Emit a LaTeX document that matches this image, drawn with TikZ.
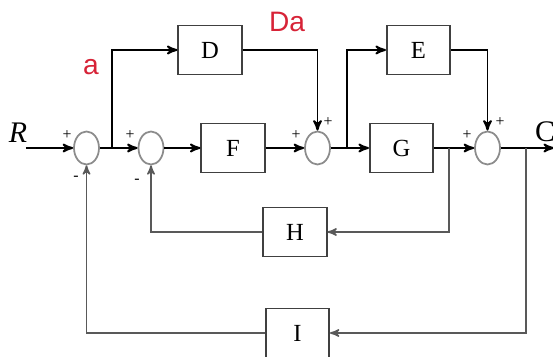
\documentclass[tikz,border=0pt]{standalone}
\usepackage{fontspec}
\setmainfont{Liberation Serif}
\newfontfamily\labfont{Liberation Sans}
\usepackage{tikz}
\usetikzlibrary{arrows,shapes.geometric}
\definecolor{labred}{RGB}{215,35,55}

\begin{document}
\begin{tikzpicture}[node distance=1.7cm, >=stealth',
    block/.style={rectangle, draw=black!75, line width=0.9pt, minimum height=0.98cm,
                  minimum width=1.27cm, font=\fontsize{14}{16}\selectfont},
    sum/.style={ellipse, draw=black!45, line width=1pt, minimum width=0.5cm,
                minimum height=0.66cm, inner sep=0pt},
    arrow/.style={->, line width=1.1pt},
    fb/.style={->, line width=0.9pt, draw=black!65},
    sgn/.style={font=\fontsize{9}{10}\selectfont, inner sep=0pt},
    redlab/.style={text=labred, font=\labfont\fontsize{16}{18}\selectfont}]
    \useasboundingbox (0,0) rectangle (11.06,7.14);
    \node[sum] (s1) at (1.73,4.18) {};
    \node[sum, right of=s1, node distance=1.29cm] (s2) {};
    \node[block, right of=s2, node distance=1.64cm] (F) {F};
    \node[sum, right of=F, node distance=1.69cm] (s3) {};
    \node[block, right of=s3, node distance=1.68cm] (G) {G};
    \node[sum, right of=G, node distance=1.72cm] (s4) {};
    \node[block, above of=F, node distance=1.96cm, xshift=-0.46cm] (D) {D};
    \node[block, above of=G, node distance=1.96cm, xshift=0.34cm] (E) {E};
    \node[block, below of=F, node distance=1.68cm, xshift=1.24cm] (H) {H};
    \node[block, below of=H, node distance=2.02cm, xshift=0.05cm] (I) {I};
    \coordinate[left of=s1, node distance=1.21cm] (in);
    \coordinate[right of=s1, node distance=0.51cm] (b1);
    \coordinate[right of=s3, node distance=0.59cm] (b2);
    \coordinate[right of=G, node distance=0.95cm] (b3);
    \coordinate[right of=s4, node distance=0.77cm] (b4);
    \coordinate[right of=s4, node distance=1.33cm] (out);
    % labels
    \node[font=\itshape\fontsize{17}{19}\selectfont] (R) at (0.36,4.48) {R};
    \node[font=\fontsize{17}{19}\selectfont, anchor=west, inner sep=1pt] (C) at (10.66,4.5) {C};
    \node[redlab] (la) at (1.82,5.8) {a};
    \node[redlab] (lda) at (5.74,6.7) {Da};
    % signs
    \node[sgn] (p1) at ([shift={(-0.39,0.26)}]s1) {+};
    \node[sgn] (m1) at ([shift={(-0.21,-0.6)}]s1) {-};
    \node[sgn] (p2) at ([shift={(-0.42,0.26)}]s2) {+};
    \node[sgn] (m2) at ([shift={(-0.28,-0.66)}]s2) {-};
    \node[sgn] (p3) at ([shift={(-0.43,0.26)}]s3) {+};
    \node[sgn] (q3) at ([shift={(0.21,0.52)}]s3) {+};
    \node[sgn] (p4) at ([shift={(-0.41,0.26)}]s4) {+};
    \node[sgn] (q4) at ([shift={(0.25,0.52)}]s4) {+};
    % forward path
    \draw[arrow] (in) -- (s1);
    \draw[arrow] (s1) -- (s2);
    \draw[arrow] (b1) |- (D);
    \draw[arrow] (s2) -- (F);
    \draw[arrow] (F) -- (s3);
    \draw[arrow] (D) -| (s3);
    \draw[arrow] (s3) -- (G);
    \draw[arrow] (b2) |- (E);
    \draw[arrow] (G) -- (s4);
    \draw[arrow] (E) -| (s4);
    \draw[arrow] (s4) -- (out);
    % feedback
    \draw[fb] (b3) |- (H);
    \draw[fb] (H) -| (s2);
    \draw[fb] (b4) |- (I);
    \draw[fb] (I) -| (s1);
\end{tikzpicture}
\end{document}
